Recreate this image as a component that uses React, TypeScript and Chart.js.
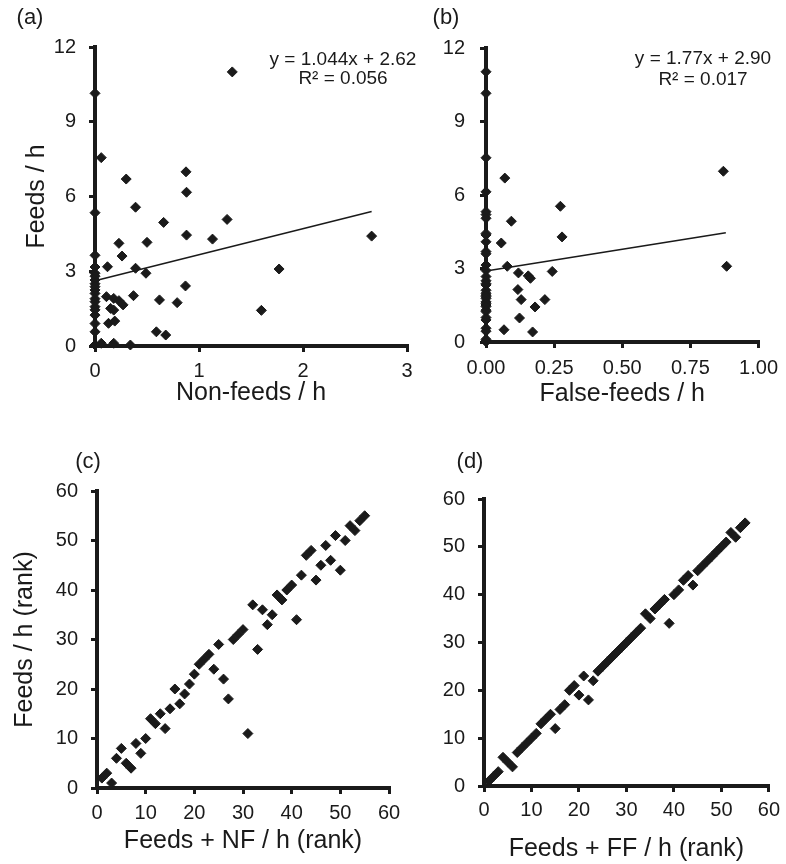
import React, { useEffect, useRef } from 'react';
import { Chart, registerables } from 'chart.js';

Chart.register(...registerables);

// ---------- Panel (a): Feeds/h vs Non-feeds/h ----------
const aNonFeeds = [
  1.32, 0.06, 0.30, 0.875, 0.88, 0.39, 0.66, 1.27, 2.66, 0.88, 1.13, 0.50, 0.23, 0.26, 0.12, 0.39, 0.49, 1.77,
  0.87, 0.37, 0.11, 0.18, 0.23, 0.27, 0.15, 0.18, 0.13, 0.19, 0.62, 0.79, 1.60, 0.59, 0.68, 0.06, 0.18, 0.34,
  0, 0, 0, 0, 0, 0, 0, 0, 0, 0, 0, 0, 0, 0, 0, 0, 0, 0, 0,
];
const aFeeds = [
  11.0, 7.56, 6.70, 6.99, 6.17, 5.57, 4.96, 5.08, 4.41, 4.45, 4.29, 4.16, 4.12, 3.61, 3.18, 3.12, 2.92, 3.09,
  2.41, 2.02, 1.98, 1.91, 1.82, 1.65, 1.51, 1.44, 0.91, 1.00, 1.85, 1.74, 1.43, 0.57, 0.44, 0.11, 0.11, 0.04,
  10.14, 5.35, 3.64, 3.17, 2.92, 2.8, 2.65, 2.5, 2.38, 2.25, 2.11, 1.9, 1.78, 1.58, 1.45, 1.24, 0.9, 0.57, 0.04,
];
const aFitX = [0, 2.66];
const aFitY = [2.62, 5.40];
const aXTicks = [0, 1, 2, 3];
const aYTicks = [0, 3, 6, 9, 12];
const aEquation = ['y = 1.044x + 2.62', 'R² = 0.056'];

// ---------- Panel (b): Feeds/h vs False-feeds/h ----------
const bFalseFeeds = [
  0.871, 0.883, 0.069, 0.273, 0.279, 0.093, 0.056, 0.078, 0.119, 0.155, 0.163, 0.243, 0.117, 0.129, 0.216,
  0.180, 0.123, 0.066, 0.171,
  0, 0, 0, 0, 0, 0, 0, 0, 0, 0, 0, 0, 0, 0, 0, 0, 0, 0, 0, 0, 0, 0, 0, 0, 0, 0, 0, 0, 0, 0, 0, 0, 0, 0, 0, 0,
];
const bFeeds = [
  6.97, 3.09, 6.69, 5.54, 4.29, 4.93, 4.04, 3.09, 2.82, 2.70, 2.60, 2.88, 2.14, 1.73, 1.73, 1.43, 0.98, 0.50, 0.41,
  11.03, 10.15, 7.52, 6.13, 5.32, 5.2, 5.05, 4.43, 4.37, 4.09, 3.69, 3.6, 3.14, 2.92, 2.67, 2.5, 2.38, 2.33,
  2.11, 1.99, 1.91, 1.85, 1.78, 1.64, 1.58, 1.51, 1.45, 1.24, 1.0, 0.9, 0.56, 0.44, 0.11, 0.04, 0.01, 1.3,
];
const bFitX = [0, 0.88];
const bFitY = [2.90, 4.46];
const bXTicks = [0, 0.25, 0.5, 0.75, 1.0];
const bYTicks = [0, 3, 6, 9, 12];
const bEquation = ['y = 1.77x + 2.90', 'R² = 0.017'];

// ---------- Panel (c): ranks Feeds vs Feeds + NF ----------
const cFeedsNFRank = [
  1, 2, 3, 4, 5, 6, 7, 8, 9, 10, 11, 12, 13, 14, 15, 16, 17, 18, 19, 20, 21, 22, 23, 24, 25, 26, 27, 28,
  29, 30, 31, 32, 33, 34, 35, 36, 37, 38, 39, 40, 41, 42, 43, 44, 45, 46, 47, 48, 49, 50, 51, 52, 53, 54, 55,
];
const cFeedsRank = [
  2, 3, 1, 6, 8, 5, 4, 9, 7, 10, 14, 13, 15, 12, 16, 20, 17, 19, 21, 23, 25, 26, 27, 24, 29, 22, 18, 30,
  31, 32, 11, 37, 28, 36, 33, 35, 39, 38, 40, 41, 34, 43, 47, 48, 42, 45, 49, 46, 51, 44, 50, 53, 52, 54, 55,
];

// ---------- Panel (d): ranks Feeds vs Feeds + FF ----------
const dFeedsFFRank = [
  1, 2, 3, 4, 5, 6, 7, 8, 9, 10, 11, 12, 13, 14, 15, 16, 17, 18, 19, 20, 21, 22, 23, 24, 25, 26, 27, 28,
  29, 30, 31, 32, 33, 34, 35, 36, 37, 38, 39, 40, 41, 42, 43, 44, 45, 46, 47, 48, 49, 50, 51, 52, 53, 54, 55,
];
const dFeedsRank = [
  1, 2, 3, 6, 5, 4, 7, 8, 9, 10, 11, 13, 14, 15, 12, 16, 17, 20, 21, 19, 23, 18, 22, 24, 25, 26, 27, 28,
  29, 30, 31, 32, 33, 36, 35, 37, 38, 39, 34, 40, 41, 43, 44, 42, 45, 46, 47, 48, 49, 50, 51, 53, 52, 54, 55,
];
const rankTicks = [0, 10, 20, 30, 40, 50, 60];

const panelLabels = ['(a)', '(b)', '(c)', '(d)'];
const xTitles = ['Non-feeds / h', 'False-feeds / h', 'Feeds + NF / h (rank)', 'Feeds + FF / h (rank)'];
const yTitles = ['Feeds / h', '', 'Feeds / h (rank)', ''];

const FONT = '"Liberation Sans", Arial, Helvetica, sans-serif';
const INK = '#1a1a1a';
const PAGE_W = 786;
const PAGE_H = 864;

type TextItem = { text: string; x: number; y: number; size: number; align?: CanvasTextAlign };

type PanelSpec = {
  xs: number[];
  ys: number[];
  fitX?: number[];
  fitY?: number[];
  xTicks: number[];
  yTicks: number[];
  xDecimals: number;
  xTitle: string;
  yTitle: string;
  area: { l: number; r: number; t: number; b: number };
  xTitleY: number;
  yTitleX: number;
  xTickPad: number;
  yTickPad: number;
  texts: TextItem[];
};

const panels: PanelSpec[] = [
  {
    xs: aNonFeeds, ys: aFeeds, fitX: aFitX, fitY: aFitY,
    xTicks: aXTicks, yTicks: aYTicks, xDecimals: 0,
    xTitle: xTitles[0], yTitle: yTitles[0],
    area: { l: 95, r: 407, t: 47, b: 346 },
    xTitleY: 393, yTitleX: 37, xTickPad: 7, yTickPad: 13,
    texts: [
      { text: panelLabels[0], x: 30, y: 18, size: 22 },
      { text: aEquation[0], x: 343, y: 60, size: 19 },
      { text: aEquation[1], x: 343, y: 79, size: 19 },
    ],
  },
  {
    xs: bFalseFeeds, ys: bFeeds, fitX: bFitX, fitY: bFitY,
    xTicks: bXTicks, yTicks: bYTicks, xDecimals: 2,
    xTitle: xTitles[1], yTitle: yTitles[1],
    area: { l: 486, r: 763, t: 48, b: 342 },
    xTitleY: 394, yTitleX: 0, xTickPad: 8, yTickPad: 15,
    texts: [
      { text: panelLabels[1], x: 446, y: 18, size: 22 },
      { text: bEquation[0], x: 703, y: 59, size: 19 },
      { text: bEquation[1], x: 703, y: 80, size: 19 },
    ],
  },
  {
    xs: cFeedsNFRank, ys: cFeedsRank,
    xTicks: rankTicks, yTicks: rankTicks, xDecimals: 0,
    xTitle: xTitles[2], yTitle: yTitles[2],
    area: { l: 97, r: 389, t: 491, b: 788 },
    xTitleY: 841, yTitleX: 25, xTickPad: 7, yTickPad: 13,
    texts: [{ text: panelLabels[2], x: 88, y: 462, size: 22 }],
  },
  {
    xs: dFeedsFFRank, ys: dFeedsRank,
    xTicks: rankTicks, yTicks: rankTicks, xDecimals: 0,
    xTitle: xTitles[3], yTitle: yTitles[3],
    area: { l: 484, r: 769, t: 499, b: 786 },
    xTitleY: 849, yTitleX: 0, xTickPad: 6, yTickPad: 13,
    texts: [{ text: panelLabels[3], x: 470, y: 462, size: 22 }],
  },
];

function textPlugin(items: TextItem[]) {
  return {
    id: 'panelText',
    afterDraw(chart: any) {
      const ctx = chart.ctx as CanvasRenderingContext2D;
      ctx.save();
      for (const it of items) {
        ctx.font = `${it.size}px ${FONT}`;
        ctx.fillStyle = INK;
        ctx.textAlign = it.align || 'center';
        ctx.textBaseline = 'middle';
        ctx.fillText(it.text, it.x, it.y);
      }
      ctx.restore();
    },
  };
}

function makeConfig(p: PanelSpec): any {
  const Y_W = 90;
  const titleHalf = 12.5;
  const X_H = p.xTitleY + titleHalf - p.area.b;
  const datasets: any[] = [];
  datasets.push({
    data: p.xs.map((x, i) => ({ x, y: p.ys[i] })),
    pointStyle: 'rectRot',
    pointRadius: 5,
    pointBorderWidth: 1,
    pointBackgroundColor: INK,
    pointBorderColor: INK,
    backgroundColor: INK,
    borderColor: INK,
    showLine: false,
    clip: false,
    order: 1,
  });
  if (p.fitX && p.fitY) {
    datasets.push({
      data: p.fitX.map((x, i) => ({ x, y: p.fitY![i] })),
      showLine: true,
      borderColor: INK,
      borderWidth: 1.6,
      pointRadius: 0,
      clip: false,
      order: 2,
    });
  }
  const tickFont = { family: FONT, size: 20 };
  const grid = {
    display: true,
    drawOnChartArea: false,
    drawTicks: true,
    tickLength: 6,
    tickWidth: 3,
    tickColor: INK,
    color: INK,
    lineWidth: 3,
  };
  const border = { display: true, color: INK, width: 4 };
  return {
    type: 'scatter',
    data: { datasets },
    options: {
      animation: false,
      responsive: false,
      events: [],
      layout: {
        padding: {
          left: p.area.l - Y_W,
          right: PAGE_W - p.area.r,
          top: p.area.t,
          bottom: PAGE_H - p.area.b - X_H,
        },
      },
      plugins: { legend: { display: false }, tooltip: { enabled: false } },
      scales: {
        x: {
          type: 'linear',
          position: 'bottom',
          min: p.xTicks[0],
          max: p.xTicks[p.xTicks.length - 1],
          afterBuildTicks: (s: any) => {
            s.ticks = p.xTicks.map((v) => ({ value: v }));
          },
          afterFit: (s: any) => {
            s.height = X_H;
          },
          ticks: {
            font: tickFont,
            color: INK,
            padding: p.xTickPad,
            maxRotation: 0,
            autoSkip: false,
            callback: (v: any) => Number(v).toFixed(p.xDecimals),
          },
          grid,
          border,
          title: {
            display: true,
            text: p.xTitle,
            color: INK,
            font: { family: FONT, size: 25, lineHeight: 1 },
            padding: 0,
          },
        },
        y: {
          type: 'linear',
          position: 'left',
          min: p.yTicks[0],
          max: p.yTicks[p.yTicks.length - 1],
          afterBuildTicks: (s: any) => {
            s.ticks = p.yTicks.map((v) => ({ value: v }));
          },
          afterFit: (s: any) => {
            s.width = Y_W;
          },
          ticks: {
            font: tickFont,
            color: INK,
            padding: p.yTickPad,
            autoSkip: false,
            callback: (v: any) => String(Number(v)),
          },
          grid,
          border,
          title: {
            display: !!p.yTitle,
            text: p.yTitle,
            color: INK,
            font: { family: FONT, size: 25, lineHeight: 1 },
            padding: { top: Math.max(0, p.yTitleX - (p.area.l - Y_W) - titleHalf), bottom: 0 },
          },
        },
      },
    },
    plugins: [textPlugin(p.texts)],
  };
}

export default function App() {
  const refs = [useRef<HTMLCanvasElement>(null), useRef<HTMLCanvasElement>(null), useRef<HTMLCanvasElement>(null), useRef<HTMLCanvasElement>(null)];

  useEffect(() => {
    const charts: Chart[] = [];
    panels.forEach((p, i) => {
      const c = refs[i].current;
      if (c) charts.push(new Chart(c, makeConfig(p)));
    });
    return () => charts.forEach((ch) => ch.destroy());
  }, []);

  return (
    <div style={{ position: 'absolute', left: 0, top: 0, width: PAGE_W, height: PAGE_H, background: '#fff', overflow: 'hidden' }}>
      {refs.map((r, i) => (
        <canvas
          key={i}
          ref={r}
          width={PAGE_W}
          height={PAGE_H}
          style={{ position: 'absolute', left: 0, top: 0, width: PAGE_W, height: PAGE_H }}
        />
      ))}
    </div>
  );
}
